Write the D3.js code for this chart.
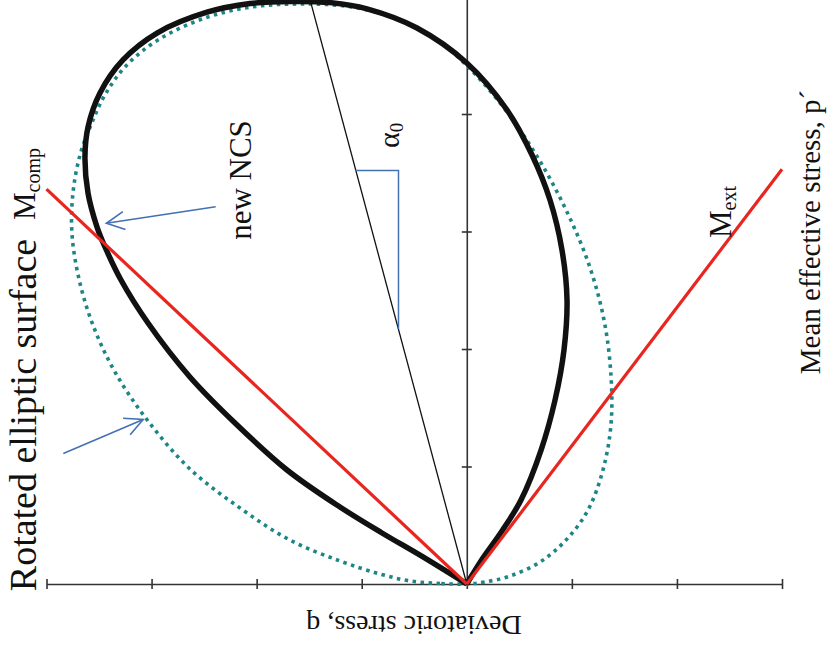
<!DOCTYPE html>
<html>
<head>
<meta charset="utf-8">
<script src="https://cdn.jsdelivr.net/npm/d3@7"></script>
<style>
  body { margin: 0; background: #fff; }
  svg { display: block; }
</style>
</head>
<body>
<svg id="chart" width="837" height="650"></svg>
<script>
// Deviatoric stress q runs horizontally (positive to the left), mean effective stress p' runs upward.
const qTicks = [4, 3, 2, 1, 0, -1, -2, -3];
const pTicks = [1, 2, 3, 4];

// New normal compression surface (teardrop), [q, p'] from the origin round and back
const ncsCurve = [
  [0, 0], [0.417, 0.23], [0.807, 0.434], [1.207, 0.655], [1.711, 0.97], [2.206, 1.37],
  [2.635, 1.762], [3.034, 2.221], [3.291, 2.587], [3.443, 2.868], [3.519, 3.038],
  [3.605, 3.328], [3.634, 3.634], [3.605, 3.889], [3.491, 4.179], [3.272, 4.46],
  [2.948, 4.689], [2.473, 4.866], [2.063, 4.94], [1.664, 4.958], [1.302, 4.948],
  [0.95, 4.895], [0.474, 4.732], [0, 4.434], [-0.383, 4.034], [-0.621, 3.651],
  [-0.792, 3.268], [-0.906, 2.843], [-0.954, 2.417], [-0.925, 1.991], [-0.84, 1.566],
  [-0.707, 1.14], [-0.516, 0.715], [-0.335, 0.451], [-0.135, 0.196], [0, 0]
];

// Rotated elliptic surface, [q, p'] closed loop
const ellipseCurve = [
  [0, 0], [0.255, 0.004], [0.541, 0.026], [0.826, 0.085], [1.207, 0.196], [1.683, 0.374],
  [2.159, 0.647], [2.635, 0.979], [3.034, 1.387], [3.348, 1.804], [3.558, 2.204],
  [3.691, 2.596], [3.758, 2.987], [3.748, 3.328], [3.681, 3.651], [3.577, 3.906],
  [3.444, 4.162], [3.244, 4.409], [2.939, 4.63], [2.492, 4.817], [2.045, 4.911],
  [1.587, 4.936], [1.093, 4.911], [0.636, 4.8], [0.255, 4.613], [-0.078, 4.34],
  [-0.383, 4.017], [-0.678, 3.626], [-0.945, 3.183], [-1.164, 2.715], [-1.306, 2.247],
  [-1.372, 1.779], [-1.372, 1.353], [-1.296, 0.97], [-1.154, 0.63], [-0.944, 0.374],
  [-0.697, 0.187], [-0.411, 0.068], [-0.173, 0.017]
];

// Critical state lines and the NCS axis
const mCompLine = [[0, 0], [4, 3.36]];
const mExtLine = [[0, 0], [-3, 3.53]];
const ncsAxisLine = [[0, 0], [1.5, 5.0]];

// Angle marker for alpha_0 and the two pointer arrows
const alphaMarker = [[1.06, 3.52], [0.65, 3.52], [0.65, 2.17]];
const arrowNcs = [[2.39, 3.21], [3.43, 3.07]];
const arrowEllipse = [[3.84, 1.11], [3.08, 1.40]];

const serif = "Liberation Serif";
const svg = d3.select("#chart");

const x = d3.scaleLinear().domain([4, -3]).range([46.5, 782]);
const y = d3.scaleLinear().domain([0, 5]).range([584, -3.5]);

const axisColor = "#333";

// Horizontal q axis with ticks crossing the line
const gq = svg.append("g")
  .attr("transform", `translate(0,${y(0)})`)
  .call(d3.axisBottom(x).tickValues(qTicks).tickSize(5).tickSizeOuter(0).tickFormat(""));
gq.selectAll("line").attr("y1", -5).attr("stroke", axisColor).attr("stroke-width", 1.6);
gq.select(".domain").attr("stroke", axisColor).attr("stroke-width", 1.6);

// Vertical p' axis
const gp = svg.append("g")
  .attr("transform", `translate(${x(0)},0)`)
  .call(d3.axisLeft(y).tickValues(pTicks).tickSize(5).tickSizeOuter(0).tickFormat(""));
gp.selectAll("line").attr("x1", 5).attr("stroke", axisColor).attr("stroke-width", 1.6);
gp.select(".domain").attr("stroke", axisColor).attr("stroke-width", 1.6);

const line = d3.line().x(d => x(d[0])).y(d => y(d[1]));

// Rotated elliptic surface (dotted teal)
svg.append("path")
  .datum(ellipseCurve)
  .attr("d", line.curve(d3.curveCatmullRomClosed.alpha(0.5)))
  .attr("fill", "none")
  .attr("stroke", "#1d8585")
  .attr("stroke-width", 3.6)
  .attr("stroke-dasharray", "3.5,4.5");

// New NCS (thick black)
svg.append("path")
  .datum(ncsCurve)
  .attr("d", line.curve(d3.curveCatmullRom.alpha(0.5)))
  .attr("fill", "none")
  .attr("stroke", "#111")
  .attr("stroke-width", 5.5)
  .attr("stroke-linejoin", "round");

// Axis of the NCS
svg.append("path")
  .datum(ncsAxisLine)
  .attr("d", line.curve(d3.curveLinear))
  .attr("fill", "none")
  .attr("stroke", "#111")
  .attr("stroke-width", 1.3);

// Critical state lines
[mCompLine, mExtLine].forEach(seg => {
  svg.append("path")
    .datum(seg)
    .attr("d", line.curve(d3.curveLinear))
    .attr("fill", "none")
    .attr("stroke", "#e8261f")
    .attr("stroke-width", 3.2);
});

// alpha_0 marker
const blue = "#4470b4";
svg.append("path")
  .datum(alphaMarker)
  .attr("d", line.curve(d3.curveLinear))
  .attr("fill", "none")
  .attr("stroke", blue)
  .attr("stroke-width", 1.5);

// Open arrowheads
svg.append("defs").append("marker")
  .attr("id", "openArrow")
  .attr("viewBox", "-20 -10 22 20")
  .attr("refX", 0).attr("refY", 0)
  .attr("markerWidth", 22).attr("markerHeight", 20)
  .attr("markerUnits", "userSpaceOnUse")
  .attr("orient", "auto")
  .append("path")
  .attr("d", "M-18,-9 L0,0 L-18,9")
  .attr("fill", "none")
  .attr("stroke", blue)
  .attr("stroke-width", 1.6);

[arrowNcs, arrowEllipse].forEach(seg => {
  svg.append("path")
    .datum(seg)
    .attr("d", line.curve(d3.curveLinear))
    .attr("fill", "none")
    .attr("stroke", blue)
    .attr("stroke-width", 1.6)
    .attr("marker-end", "url(#openArrow)");
});

// Labels (all read upward except the q label, which is upside down)
function vText(px, py, size) {
  return svg.append("text")
    .attr("transform", `translate(${px},${py}) rotate(-90)`)
    .attr("font-family", serif)
    .attr("fill", "#111")
    .attr("font-size", size);
}

vText(251, 180, 31).attr("text-anchor", "middle").text("new NCS");

const a0 = vText(399, 148, 30);
a0.append("tspan").text("α");
a0.append("tspan").attr("font-size", 19).attr("dy", 4).text("0");

const me = vText(731, 238, 31);
me.append("tspan").text("M");
me.append("tspan").attr("font-size", 20).attr("dy", 5).text("ext");

const mc = vText(35, 220, 31);
mc.append("tspan").text("M");
mc.append("tspan").attr("font-size", 20).attr("dy", 5).text("comp");

vText(36, 415, 38).attr("text-anchor", "middle").text("Rotated elliptic surface");

vText(820, 232, 29).attr("text-anchor", "middle").text("Mean effective stress, p\u00B4");

svg.append("text")
  .attr("transform", `translate(414,616) rotate(180)`)
  .attr("font-family", serif)
  .attr("fill", "#111")
  .attr("font-size", 28)
  .attr("text-anchor", "middle")
  .text("Deviatoric stress, q");
</script>
</body>
</html>
